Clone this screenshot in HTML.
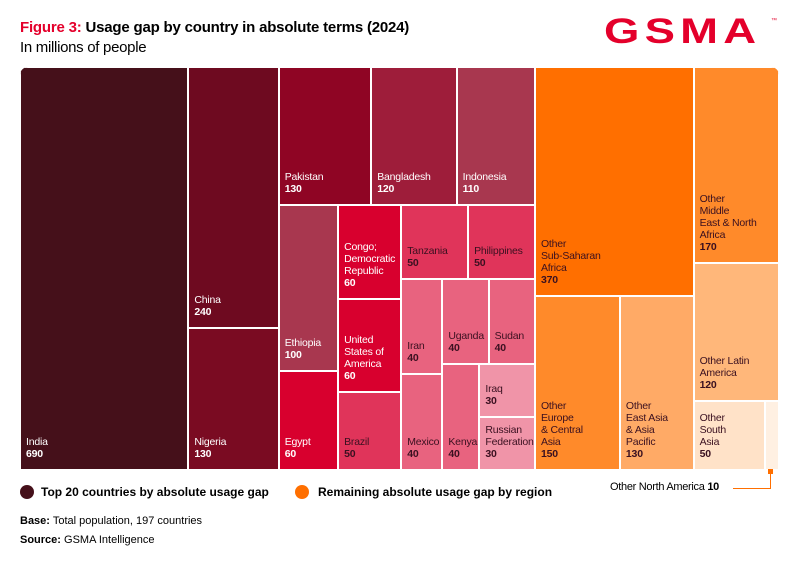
<!DOCTYPE html>
<html><head><meta charset="utf-8"><style>
body{margin:0;width:800px;height:564px;background:#fff;font-family:"Liberation Sans",sans-serif;position:relative;overflow:hidden}
.t{position:absolute;white-space:nowrap}
#map{position:absolute;left:20px;top:67px;width:759px;height:403px;border-radius:8px 8px 0 0;overflow:hidden}
.cell{position:absolute;box-sizing:border-box;border:1px solid #fff;overflow:hidden}
.lab{position:absolute;left:5px;bottom:9px;font-size:10.5px;line-height:12px;letter-spacing:-0.2px;white-space:nowrap}
.lab b{font-weight:bold}
</style></head><body>
<div class="t" style="left:20px;top:19px;font-size:15px;font-weight:bold;letter-spacing:-0.2px"><span style="color:#e4002b">Figure 3:</span> Usage gap by country in absolute terms (2024)</div>
<div class="t" style="left:20px;top:39px;font-size:15px;letter-spacing:-0.3px">In millions of people</div>
<div class="t" style="left:604px;top:12px;font-size:35px;font-weight:bold;color:#e4002b;letter-spacing:4px;transform:scaleX(1.3);transform-origin:left">GSMA</div>
<div class="t" style="left:771px;top:18px;font-size:6px;color:#e4002b">™</div>
<div id="map"></div>
<div class="t" style="left:20px;top:485px;width:14px;height:14px;border-radius:50%;background:#45101a"></div>
<div class="t" style="left:41px;top:485px;font-size:12px;font-weight:bold">Top 20 countries by absolute usage gap</div>
<div class="t" style="left:295px;top:485px;width:14px;height:14px;border-radius:50%;background:#ff6f00"></div>
<div class="t" style="left:318px;top:485px;font-size:12px;font-weight:bold">Remaining absolute usage gap by region</div>
<div class="t" style="left:610px;top:481px;font-size:11px;letter-spacing:-0.3px">Other North America <b>10</b></div>
<div class="t" style="left:733px;top:488px;width:38px;height:1px;background:#ff6f00"></div>
<div class="t" style="left:770px;top:471px;width:1px;height:18px;background:#ff6f00"></div>
<div class="t" style="left:768px;top:469px;width:5px;height:5px;background:#ff6f00"></div>
<div class="t" style="left:20px;top:515px;font-size:11px"><b>Base:</b> Total population, 197 countries</div>
<div class="t" style="left:20px;top:534px;font-size:11px"><b>Source:</b> GSMA Intelligence</div>
<script>
const names=["India","China","Nigeria","Pakistan","Bangladesh","Indonesia","Ethiopia","Egypt","Congo; Democratic Republic","United States of America","Brazil","Tanzania","Philippines","Iran","Mexico","Uganda","Sudan","Kenya","Iraq","Russian Federation","Other Sub-Saharan Africa","Other Europe & Central Asia","Other East Asia & Asia Pacific","Other Middle East & North Africa","Other Latin America","Other South Asia","Other North America"];
const values=[690,240,130,130,120,110,100,60,60,60,50,50,50,40,40,40,40,40,30,30,370,150,130,170,120,50,10];
const labels=[["India"],["China"],["Nigeria"],["Pakistan"],["Bangladesh"],["Indonesia"],["Ethiopia"],["Egypt"],["Congo;","Democratic","Republic"],["United","States of","America"],["Brazil"],["Tanzania"],["Philippines"],["Iran"],["Mexico"],["Uganda"],["Sudan"],["Kenya"],["Iraq"],["Russian","Federation"],["Other","Sub-Saharan","Africa"],["Other","Europe","& Central","Asia"],["Other","East Asia","& Asia","Pacific"],["Other","Middle","East & North","Africa"],["Other Latin","America"],["Other","South","Asia"],[]];
const fills=["#45101a","#6e0a20","#7a0b22","#8f0524","#9e1d3a","#a8374f","#a8374f","#d8002e","#d8002e","#d8002e","#e0345a","#e0345a","#e0345a","#e8637f","#e8637f","#e8637f","#e8637f","#e8637f","#f094a8","#f094a8","#ff6f00","#ff8a2a","#ffaa66","#ff8a2a","#ffb77a","#ffe2c8","#fff0e2"];
const darkText=[10,11,12,13,14,15,16,17,18,19,20,21,22,23,24,25,26];
// layout tree: [dir, children]; leaves are indices
const tree=["h",[0,["v",[1,2]],["v",[["h",[3,4,5]],["h",[["v",[6,7]],["v",[8,9,10]],["v",[["h",[11,12]],["h",[["v",[13,14]],["v",[["h",[15,16]],["h",[17,["v",[18,19]]]]]]]]]]]]]],["v",[20,["h",[21,22]]]],["v",[23,24,["h",[25,26]]]]]];
function w(n){return typeof n==="number"?values[n]:n[1].reduce((s,c)=>s+w(c),0);}
const map=document.getElementById('map');
function lay(n,x,y,W,H){
 if(typeof n==="number"){
  const d=document.createElement('div');d.className='cell';
  
  
  d.style.cssText=`left:${x}px;top:${y}px;width:${W}px;height:${H}px;background:${fills[n]}`;
  if(labels[n].length){const l=document.createElement('div');l.className='lab';
   
   
   l.style.color=darkText.includes(n)?'#3a1020':'#fff';
   l.innerHTML=labels[n].join('<br>')+'<br><b>'+values[n]+'</b>';d.appendChild(l);}
  map.appendChild(d);return;}
 const tot=w(n);let off=0;
 n[1].forEach(c=>{const f=w(c)/tot;
  if(n[0]==="h"){const cw=W*f;lay(c,x+off,y,cw,H);off+=cw;}
  else{const ch=H*f;lay(c,x,y+off,W,ch);off+=ch;}});
}
lay(tree,0,0,759,403);
</script>
</body></html>
